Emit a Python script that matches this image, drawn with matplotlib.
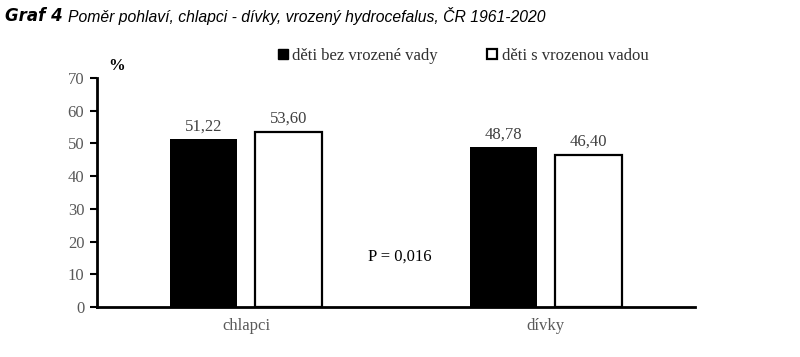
import matplotlib.pyplot as plt
from matplotlib.patches import Patch
import numpy as np

# data
kategorie = ['chlapci', 'dívky']
bez_vady = [51.22, 48.78]
s_vadou = [53.60, 46.40]
popisky_bez = ['51,22', '48,78']
popisky_s = ['53,60', '46,40']
serie = ['děti bez vrozené vady', 'děti s vrozenou vadou']

plt.rcParams['font.family'] = ['Liberation Serif', 'DejaVu Serif']

fig = plt.figure(figsize=(8, 3.57), dpi=100)
ax = fig.add_axes([0.121, 0.140, 0.748, 0.6415])

x = np.arange(len(kategorie))
w = 0.224
off = 0.142
b1 = ax.bar(x - off, bez_vady, w, color='black', edgecolor='black', linewidth=0)
b2 = ax.bar(x + off, s_vadou, w, color='white', edgecolor='black', linewidth=1.6)

for i in range(len(kategorie)):
    ax.text(x[i] - off, bez_vady[i] + 1.6, popisky_bez[i], ha='center', va='bottom',
            fontsize=12, color='#404040')
    ax.text(x[i] + off, s_vadou[i] + 1.6, popisky_s[i], ha='center', va='bottom',
            fontsize=12, color='#404040')

ax.set_xlim(-0.5, 1.5)
ax.set_ylim(0, 70)
ax.set_yticks(range(0, 71, 10))
ax.set_xticks(x)
ax.set_xticklabels(kategorie)
ax.tick_params(axis='y', labelsize=12, labelcolor='#595959', length=5, width=1.5,
               direction='out', pad=4)
ax.tick_params(axis='x', labelsize=12, labelcolor='#595959', length=0, pad=8)
for s in ['top', 'right']:
    ax.spines[s].set_visible(False)
ax.spines['left'].set_linewidth(2)
ax.spines['bottom'].set_linewidth(2)

ax.text(0.512, 15.3, 'P = 0,016', ha='center', va='center', fontsize=12, color='black')

fig.text(0.146, 0.815, '%', fontsize=12, fontweight='bold', ha='center', va='center')

handles = [Patch(facecolor='black', edgecolor='black'),
           Patch(facecolor='white', edgecolor='black', linewidth=1.6)]
fig.legend(handles, serie, loc='center left', bbox_to_anchor=(0.347, 0.843), ncol=2,
           frameon=False, fontsize=12, handlelength=0.6, handleheight=0.6,
           handletextpad=0.25, columnspacing=3.0, labelcolor='#303030',
           borderaxespad=0, borderpad=0)

fig.text(0.006, 0.955, 'Graf 4', fontsize=12, fontweight='bold', style='italic',
         family='DejaVu Sans', ha='left', va='center')
fig.text(0.085, 0.955, 'Poměr pohlaví, chlapci - dívky, vrozený hydrocefalus, ČR 1961-2020',
         fontsize=11.35, style='italic', family='Liberation Sans', ha='left', va='center')

fig.savefig('out.png', dpi=100)
